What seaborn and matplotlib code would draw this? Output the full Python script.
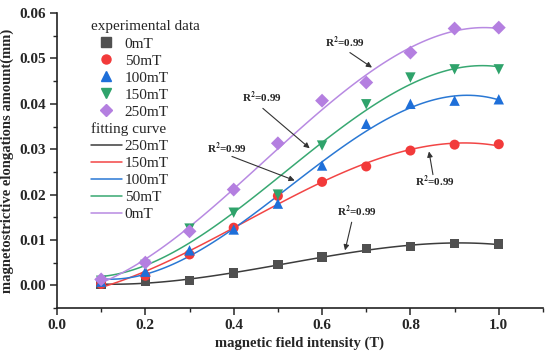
import numpy as np
import pandas as pd
import matplotlib
matplotlib.use('Agg')
import matplotlib.pyplot as plt
from matplotlib.lines import Line2D
import seaborn as sns

# field intensity (T)
field = [0.1, 0.2, 0.3, 0.4, 0.5, 0.6, 0.7, 0.8, 0.9, 1.0]

# elongation (mm)
elong_0 = [0.0002, 0.0008, 0.0010, 0.0027, 0.0046, 0.0062, 0.0081, 0.0085, 0.0092, 0.0091]
elong_50 = [0.0003, 0.0021, 0.0068, 0.0127, 0.0197, 0.0228, 0.0262, 0.0297, 0.0310, 0.0311]
elong_100 = [0.0008, 0.0030, 0.0077, 0.0123, 0.0180, 0.0264, 0.0356, 0.0400, 0.0407, 0.0410]
elong_150 = [0.0010, 0.0045, 0.0125, 0.0160, 0.0200, 0.0308, 0.0399, 0.0458, 0.0476, 0.0476]
elong_250 = [0.0013, 0.0050, 0.0119, 0.0211, 0.0313, 0.0407, 0.0447, 0.0513, 0.0566, 0.0568]

series_names = ['0mT', '50mT', '100mT', '150mT', '250mT']
series_values = [elong_0, elong_50, elong_100, elong_150, elong_250]
# legend labels of the fitting curves, as printed in the original
curve_labels = ['250mT', '150mT', '100mT', '50mT', '0mT']

marker_colors = ['#505050', '#f23a3a', '#1e6fd9', '#2fa36b', '#b47fe0']
curve_colors = ['#3c3c3c', '#f24545', '#2a78d4', '#38a872', '#b88ae2']
markers = ['s', 'o', '^', 'v', 'D']
marker_sizes = [46, 52, 56, 56, 50]

sns.set_style('ticks')
plt.rcParams['font.family'] = ['Liberation Serif', 'DejaVu Serif']
plt.rcParams['mathtext.fontset'] = 'stix'

fig = plt.figure(figsize=(5.5, 3.54), dpi=100)
ax = fig.add_axes([0.1036, 0.130, 0.8836, 0.833])

for name, vals, mc, cc, mk, ms in zip(series_names, series_values, marker_colors,
                                      curve_colors, markers, marker_sizes):
    df = pd.DataFrame({'B': field, 'dL': vals})
    # cubic fitting curve
    sns.regplot(data=df, x='B', y='dL', order=3, ci=None, scatter=False,
                line_kws={'color': cc, 'lw': 1.1}, ax=ax)
    sns.scatterplot(data=df, x='B', y='dL', marker=mk, s=ms, color=mc,
                    edgecolor='none', ax=ax, zorder=3)

ax.set_xlim(0, 1.1)
ax.set_ylim(-0.005, 0.06)
ax.set_xticks(np.arange(0, 1.01, 0.2))
ax.set_xticks(np.arange(0.1, 1.11, 0.2), minor=True)
ax.set_yticks(np.arange(0, 0.061, 0.01))
ax.set_yticks(np.arange(-0.005, 0.06, 0.01), minor=True)
ax.set_xticklabels([f'{v:.1f}' for v in np.arange(0, 1.01, 0.2)])
ax.set_yticklabels([f'{v:.2f}' for v in np.arange(0, 0.061, 0.01)])
for lab in ax.get_xticklabels() + ax.get_yticklabels():
    lab.set_fontweight('bold')
    lab.set_fontsize(11)
ax.tick_params(which='major', direction='out', length=5, width=1.1, pad=3)
ax.tick_params(which='minor', direction='out', length=3, width=1.0)
sns.despine(ax=ax)
for s in ['left', 'bottom']:
    ax.spines[s].set_linewidth(1.2)
    ax.spines[s].set_color('#222222')

ax.set_xlabel('magnetic field intensity (T)', fontsize=10.5, fontweight='bold', labelpad=3)
ax.set_ylabel('magnetostrictive elongations amount(mm)', fontsize=10.5,
              fontweight='bold', labelpad=4)

# R^2 annotations: (text pos, arrow tail, arrow head)
notes = [((0.652, 0.0535), (0.663, 0.0513), (0.713, 0.0480)),
         ((0.464, 0.0414), (0.466, 0.0390), (0.572, 0.0302)),
         ((0.385, 0.0302), (0.396, 0.0284), (0.538, 0.0231)),
         ((0.855, 0.0229), (0.851, 0.0244), (0.842, 0.0295)),
         ((0.679, 0.0163), (0.667, 0.0139), (0.652, 0.0077))]
for tpos, tail, head in notes:
    ax.text(tpos[0], tpos[1], r'R$^{\mathbf{2}}$=0.99', fontsize=8, fontweight='bold',
            ha='center', va='center')
    ax.annotate('', xy=head, xytext=tail,
                arrowprops=dict(arrowstyle='-|>', color='#333333', lw=0.8,
                                mutation_scale=8, shrinkA=0, shrinkB=0))

# legend
handles = [Line2D([], [], ls='none', label='experimental data')]
for name, mc, mk in zip(series_names, marker_colors, markers):
    handles.append(Line2D([], [], ls='none', marker=mk, color=mc, markersize=6.5, label=name))
handles.append(Line2D([], [], ls='none', label='fitting curve'))
for lab, cc in zip(curve_labels, curve_colors):
    handles.append(Line2D([], [], color=cc, lw=1.1, label=lab))

leg = ax.legend(handles=handles, loc='upper left', bbox_to_anchor=(0.07, 0.975),
                frameon=False, fontsize=11, handlelength=2.0, handletextpad=0.2,
                labelspacing=0.22, borderpad=0, borderaxespad=0)
# header rows: drop the empty handle so the text starts at the handle edge
headers = {'experimental data', 'fitting curve'}
for col in leg._legend_handle_box.get_children():
    for row in col.get_children():
        kids = row.get_children()
        if len(kids) == 2 and hasattr(kids[1], '_text') and kids[1]._text.get_text() in headers:
            row._children = [kids[1]]

fig.savefig('out.png', dpi=100)
